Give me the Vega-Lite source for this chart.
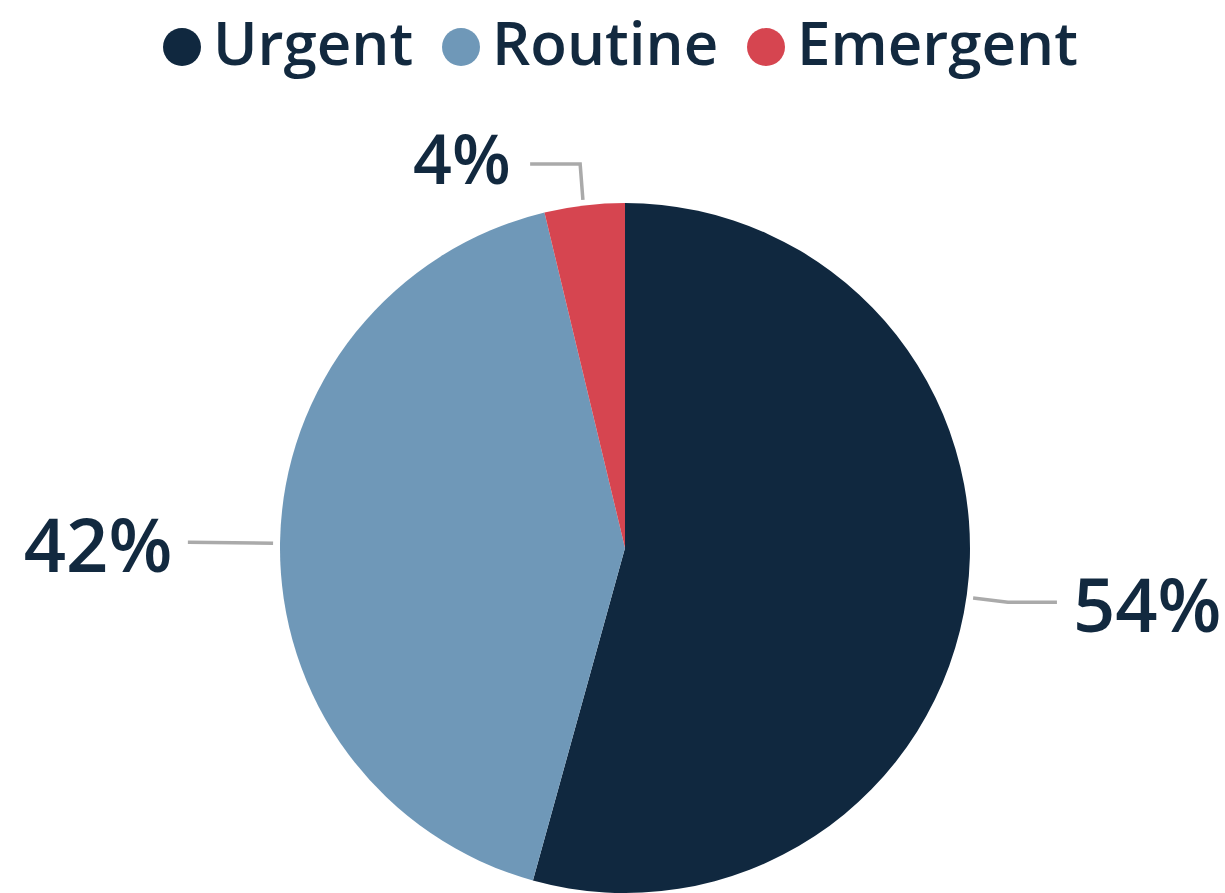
{
  "$schema": "https://vega.github.io/schema/vega-lite/v6.json",
  "width": 1200,
  "height": 690,
  "autosize": {"type": "none"},
  "padding": {"left": 25, "top": 203, "right": 0, "bottom": 0},
  "background": "white",
  "config": {"view": {"stroke": null}},
  "datasets": {
    "slices": [
      {"category": "Urgent", "share": 54.3, "label": "54%", "rank": 1},
      {"category": "Routine", "share": 41.95, "label": "42%", "rank": 2},
      {"category": "Emergent", "share": 3.75, "label": "4%", "rank": 3}
    ],
    "leaders": [
      {"leader": "Urgent", "pt": 1, "x": 1.009, "y": -0.145},
      {"leader": "Urgent", "pt": 2, "x": 1.11, "y": -0.157},
      {"leader": "Urgent", "pt": 3, "x": 1.252, "y": -0.157},
      {"leader": "Routine", "pt": 1, "x": -1.02, "y": 0.014},
      {"leader": "Routine", "pt": 2, "x": -1.267, "y": 0.017},
      {"leader": "Emergent", "pt": 1, "x": -0.122, "y": 1.009},
      {"leader": "Emergent", "pt": 2, "x": -0.13, "y": 1.113},
      {"leader": "Emergent", "pt": 3, "x": -0.275, "y": 1.113}
    ]
  },
  "layer": [
    {
      "data": {"name": "slices"},
      "mark": {"type": "arc", "outerRadius": 345},
      "encoding": {
        "theta": {"field": "share", "type": "quantitative", "stack": true},
        "order": {"field": "rank", "type": "quantitative"},
        "color": {
          "field": "category",
          "type": "nominal",
          "scale": {"domain": ["Urgent", "Routine", "Emergent"], "range": ["#10283f", "#6f98b8", "#d64550"]},
          "legend": {
            "orient": "none",
            "legendX": 127,
            "legendY": -186,
            "padding": 0,
            "direction": "horizontal",
            "columns": 3,
            "title": null,
            "symbolType": "circle",
            "symbolSize": 1444,
            "symbolStrokeWidth": 0,
            "labelFontSize": 60,
            "labelFont": "Open Sans",
            "labelFontWeight": 600,
            "labelColor": "#12293f",
            "labelLimit": 400,
            "labelOffset": 1,
            "columnPadding": 17
          }
        }
      }
    },
    {
      "data": {"name": "slices"},
      "mark": {"type": "text", "radius": 527, "dy": -9, "font": "Open Sans", "fontWeight": 600, "fontSize": 74, "color": "#12293f", "align": "center", "baseline": "middle"},
      "encoding": {
        "theta": {"field": "share", "type": "quantitative", "stack": true},
        "order": {"field": "rank", "type": "quantitative"},
        "text": {"condition": {"test": "datum.rank == 1", "field": "label"}, "value": ""}
      }
    },
    {
      "data": {"name": "slices"},
      "mark": {"type": "text", "radius": 527, "dy": 11, "font": "Open Sans", "fontWeight": 600, "fontSize": 74, "color": "#12293f", "align": "center", "baseline": "middle"},
      "encoding": {
        "theta": {"field": "share", "type": "quantitative", "stack": true},
        "order": {"field": "rank", "type": "quantitative"},
        "text": {"condition": {"test": "datum.rank == 2", "field": "label"}, "value": ""}
      }
    },
    {
      "data": {"name": "slices"},
      "mark": {"type": "text", "radius": 410, "dx": -115, "dy": 23, "font": "Open Sans", "fontWeight": 600, "fontSize": 68, "color": "#12293f", "align": "center", "baseline": "middle"},
      "encoding": {
        "theta": {"field": "share", "type": "quantitative", "stack": true},
        "order": {"field": "rank", "type": "quantitative"},
        "text": {"condition": {"test": "datum.rank == 3", "field": "label"}, "value": ""}
      }
    },
    {
      "data": {"name": "leaders"},
      "mark": {"type": "line", "color": "#aaaaaa", "strokeWidth": 3.5},
      "encoding": {
        "x": {"field": "x", "type": "quantitative", "scale": {"domain": [-1.7391, 1.7391], "nice": false, "zero": false}, "axis": null},
        "y": {"field": "y", "type": "quantitative", "scale": {"domain": [-1, 1], "nice": false, "zero": false}, "axis": null},
        "detail": {"field": "leader", "type": "nominal"},
        "order": {"field": "pt", "type": "quantitative"}
      }
    }
  ]
}
